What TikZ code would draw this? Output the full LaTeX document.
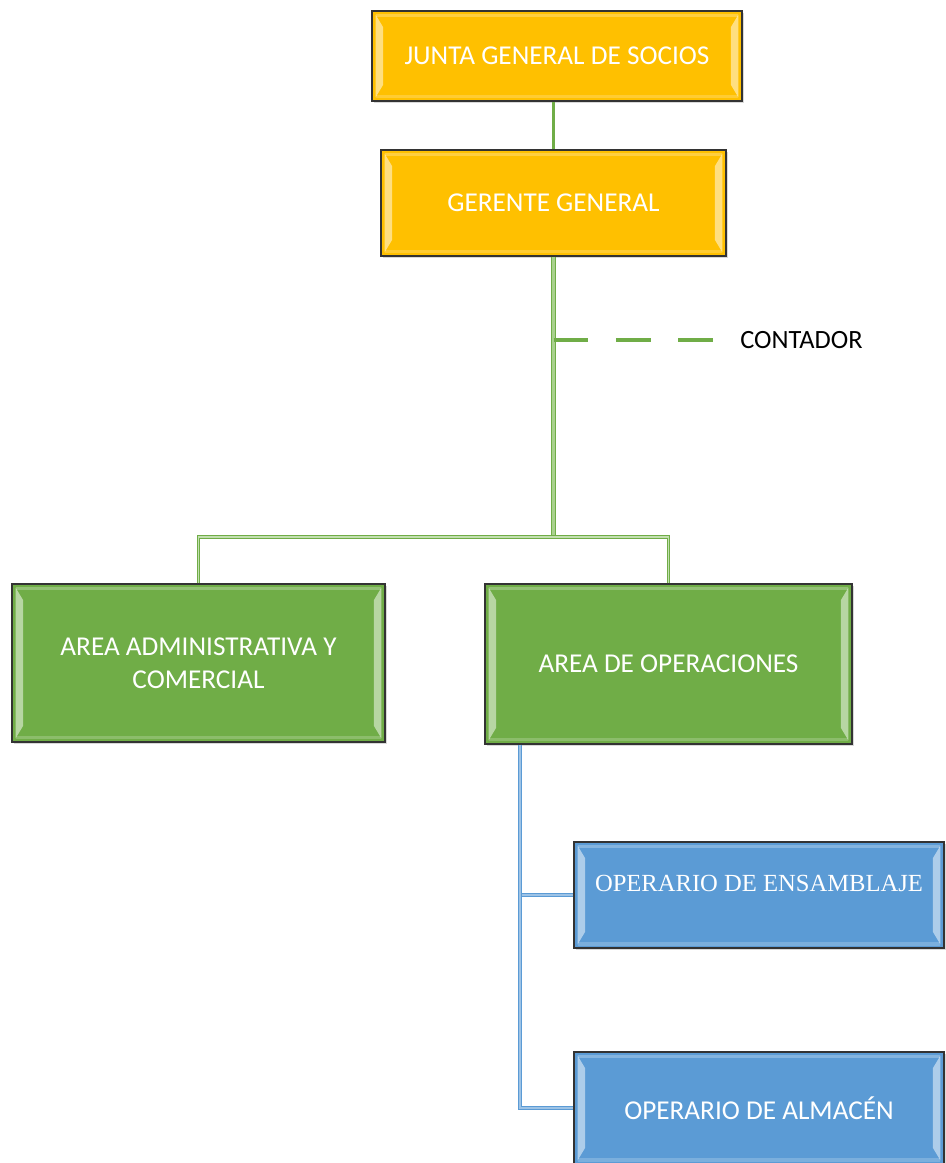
\documentclass[tikz,border=0pt]{standalone}
\usepackage{fontspec}
\setmainfont{Carlito}
\newfontfamily\serifbox{Liberation Serif}
\usetikzlibrary{shadows}

\definecolor{gold}{HTML}{FFC000}
\definecolor{leaf}{HTML}{70AD47}
\definecolor{leaflight}{HTML}{A9D18E}
\definecolor{sky}{HTML}{5B9BD5}
\definecolor{skylight}{HTML}{9DC3E6}
\definecolor{rim}{HTML}{333333}

\newcommand\bevel{%
  \fill[white,opacity=.5] ([shift={(.07cm,-.07cm)}]path picture bounding box.north west) -- ([shift={(.22cm,-.32cm)}]path picture bounding box.north west)
    -- ([shift={(.22cm,.32cm)}]path picture bounding box.south west) -- ([shift={(.07cm,.07cm)}]path picture bounding box.south west) -- cycle;
  \fill[white,opacity=.5] ([shift={(-.07cm,-.07cm)}]path picture bounding box.north east) -- ([shift={(-.22cm,-.32cm)}]path picture bounding box.north east)
    -- ([shift={(-.22cm,.32cm)}]path picture bounding box.south east) -- ([shift={(-.07cm,.07cm)}]path picture bounding box.south east) -- cycle;
  \fill[white,opacity=.25] ([shift={(.07cm,-.05cm)}]path picture bounding box.north west) rectangle ([shift={(-.07cm,-.12cm)}]path picture bounding box.north east);
  \fill[white,opacity=.2] ([shift={(.07cm,.05cm)}]path picture bounding box.south west) rectangle ([shift={(-.07cm,.12cm)}]path picture bounding box.south east);
}

\tikzset{
  unitbox/.style={draw=rim, line width=1.1pt, align=center, text=white, inner sep=2pt,
    font=\fontsize{15.5}{18.5}\selectfont, path picture=\bevel,
    drop shadow={opacity=.3, shadow xshift=.04cm, shadow yshift=-.04cm}},
  goldbox/.style={unitbox, fill=gold},
  greenbox/.style={unitbox, fill=leaf},
  bluebox/.style={unitbox, fill=sky},
  trunk/.style={draw=leaf, double=leaflight, double distance=1.2pt, line width=.9pt},
  branch/.style={draw=leaf, double=leaflight!70, double distance=.8pt, line width=.6pt},
  twig/.style={draw=sky, double=skylight, double distance=.9pt, line width=.6pt},
}

\begin{document}
\begin{tikzpicture}[x=0.02cm, y=-0.02cm]
  \useasboundingbox (0,0) rectangle (946,1163);

  \node (junta) [goldbox, minimum width=7.4cm, minimum height=1.8cm] at (557,56) {JUNTA GENERAL DE SOCIOS};
  \node (gerente) [goldbox, minimum width=6.9cm, minimum height=2.12cm] at (553.5,203) {GERENTE GENERAL};
  \node (contador) [anchor=west, inner sep=0pt, font=\fontsize{15}{18}\selectfont] at (740,340) {CONTADOR};
  \node (admin) [greenbox, minimum width=7.46cm, minimum height=3.16cm] at (198.5,663) {AREA ADMINISTRATIVA Y\\COMERCIAL};
  \node (oper) [greenbox, minimum width=7.34cm, minimum height=3.2cm] at (668.5,664) {AREA DE OPERACIONES};
  \node (ensam) [bluebox, minimum width=7.4cm, minimum height=2.12cm, text height=.3cm, text depth=.44cm,
    font=\serifbox\fontsize{14}{16}\selectfont] at (759,895) {OPERARIO DE ENSAMBLAJE};
  \node (almacen) [bluebox, minimum width=7.4cm, minimum height=2.24cm] at (759,1108) {OPERARIO DE ALMACÉN};

  \coordinate (split) at (gerente.south |- 0,537);
  \coordinate (opdrop) at ([xshift=-2.97cm]oper.south);

  \draw[leaf, line width=2pt] (gerente.north) -- (gerente.north |- junta.south);
  \draw[trunk] (gerente.south) -- (split);
  \draw[branch] (admin.north) |- (split) -| (oper.north);
  \draw[leaf, line width=2.3pt, dash pattern=on .7cm off .55cm, shorten >=.5cm] (gerente.south |- contador.west) -- (contador.west);
  \draw[twig] (opdrop) |- (ensam.west);
  \draw[twig] (opdrop) |- (almacen.west);
\end{tikzpicture}
\end{document}
